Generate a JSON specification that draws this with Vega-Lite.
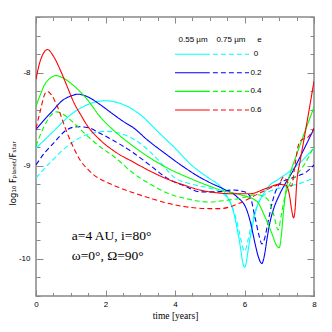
{
 "$schema": "https://vega.github.io/schema/vega-lite/v6.json",
 "width": 278, "height": 279,
 "autosize": "none",
 "padding": {"left": 36, "top": 17, "right": 18, "bottom": 36},
 "background": "white",
 "config": {"view": {"stroke": "#888888", "strokeWidth": 1.5}},
 "datasets": {
  "curves": [
   {"t":0,"v":-8.81,"e":"0","w":"0.55"},{"t":0.5,"v":-8.63,"e":"0","w":"0.55"},{"t":1,"v":-8.45,"e":"0","w":"0.55"},{"t":1.5,"v":-8.34,"e":"0","w":"0.55"},{"t":2,"v":-8.3,"e":"0","w":"0.55"},{"t":2.5,"v":-8.34,"e":"0","w":"0.55"},{"t":3,"v":-8.45,"e":"0","w":"0.55"},{"t":3.5,"v":-8.63,"e":"0","w":"0.55"},{"t":4,"v":-8.81,"e":"0","w":"0.55"},{"t":4.5,"v":-9.0,"e":"0","w":"0.55"},{"t":5,"v":-9.14,"e":"0","w":"0.55"},{"t":5.3,"v":-9.22,"e":"0","w":"0.55"},{"t":5.5,"v":-9.33,"e":"0","w":"0.55"},{"t":5.6,"v":-9.4,"e":"0","w":"0.55"},{"t":5.7,"v":-9.52,"e":"0","w":"0.55"},{"t":5.8,"v":-9.7,"e":"0","w":"0.55"},{"t":5.85,"v":-9.8,"e":"0","w":"0.55"},{"t":5.9,"v":-9.92,"e":"0","w":"0.55"},{"t":5.95,"v":-10.04,"e":"0","w":"0.55"},{"t":6,"v":-10.09,"e":"0","w":"0.55"},{"t":6.05,"v":-10.04,"e":"0","w":"0.55"},{"t":6.1,"v":-9.92,"e":"0","w":"0.55"},{"t":6.15,"v":-9.8,"e":"0","w":"0.55"},{"t":6.2,"v":-9.7,"e":"0","w":"0.55"},{"t":6.3,"v":-9.52,"e":"0","w":"0.55"},{"t":6.4,"v":-9.4,"e":"0","w":"0.55"},{"t":6.5,"v":-9.33,"e":"0","w":"0.55"},{"t":6.7,"v":-9.22,"e":"0","w":"0.55"},{"t":7,"v":-9.14,"e":"0","w":"0.55"},{"t":7.5,"v":-9.0,"e":"0","w":"0.55"},{"t":8,"v":-8.81,"e":"0","w":"0.55"},

   {"t":0,"v":-9.13,"e":"0","w":"0.75"},{"t":0.5,"v":-8.93,"e":"0","w":"0.75"},{"t":1,"v":-8.76,"e":"0","w":"0.75"},{"t":1.5,"v":-8.66,"e":"0","w":"0.75"},{"t":2,"v":-8.63,"e":"0","w":"0.75"},{"t":2.5,"v":-8.66,"e":"0","w":"0.75"},{"t":3,"v":-8.76,"e":"0","w":"0.75"},{"t":3.5,"v":-8.93,"e":"0","w":"0.75"},{"t":4,"v":-9.13,"e":"0","w":"0.75"},{"t":4.5,"v":-9.2,"e":"0","w":"0.75"},{"t":5,"v":-9.24,"e":"0","w":"0.75"},{"t":5.3,"v":-9.28,"e":"0","w":"0.75"},{"t":5.5,"v":-9.34,"e":"0","w":"0.75"},{"t":5.6,"v":-9.4,"e":"0","w":"0.75"},{"t":5.7,"v":-9.5,"e":"0","w":"0.75"},{"t":5.8,"v":-9.63,"e":"0","w":"0.75"},{"t":5.9,"v":-9.8,"e":"0","w":"0.75"},{"t":5.95,"v":-9.88,"e":"0","w":"0.75"},{"t":6,"v":-9.92,"e":"0","w":"0.75"},{"t":6.05,"v":-9.88,"e":"0","w":"0.75"},{"t":6.1,"v":-9.8,"e":"0","w":"0.75"},{"t":6.2,"v":-9.63,"e":"0","w":"0.75"},{"t":6.3,"v":-9.5,"e":"0","w":"0.75"},{"t":6.4,"v":-9.4,"e":"0","w":"0.75"},{"t":6.5,"v":-9.34,"e":"0","w":"0.75"},{"t":6.7,"v":-9.28,"e":"0","w":"0.75"},{"t":7,"v":-9.24,"e":"0","w":"0.75"},{"t":7.5,"v":-9.2,"e":"0","w":"0.75"},{"t":8,"v":-9.13,"e":"0","w":"0.75"},

   {"t":0,"v":-8.61,"e":"0.2","w":"0.55"},{"t":0.25,"v":-8.5,"e":"0.2","w":"0.55"},{"t":0.5,"v":-8.4,"e":"0.2","w":"0.55"},{"t":0.75,"v":-8.3,"e":"0.2","w":"0.55"},{"t":1,"v":-8.25,"e":"0.2","w":"0.55"},{"t":1.2,"v":-8.23,"e":"0.2","w":"0.55"},{"t":1.5,"v":-8.26,"e":"0.2","w":"0.55"},{"t":1.8,"v":-8.33,"e":"0.2","w":"0.55"},{"t":2.2,"v":-8.44,"e":"0.2","w":"0.55"},{"t":2.5,"v":-8.52,"e":"0.2","w":"0.55"},{"t":2.8,"v":-8.59,"e":"0.2","w":"0.55"},{"t":3.2,"v":-8.72,"e":"0.2","w":"0.55"},{"t":3.76,"v":-8.88,"e":"0.2","w":"0.55"},{"t":4.2,"v":-9.0,"e":"0.2","w":"0.55"},{"t":4.7,"v":-9.12,"e":"0.2","w":"0.55"},{"t":5,"v":-9.18,"e":"0.2","w":"0.55"},{"t":5.4,"v":-9.25,"e":"0.2","w":"0.55"},{"t":5.77,"v":-9.33,"e":"0.2","w":"0.55"},{"t":6.06,"v":-9.47,"e":"0.2","w":"0.55"},{"t":6.18,"v":-9.62,"e":"0.2","w":"0.55"},{"t":6.3,"v":-9.83,"e":"0.2","w":"0.55"},{"t":6.4,"v":-9.98,"e":"0.2","w":"0.55"},{"t":6.5,"v":-10.05,"e":"0.2","w":"0.55"},{"t":6.58,"v":-9.95,"e":"0.2","w":"0.55"},{"t":6.65,"v":-9.78,"e":"0.2","w":"0.55"},{"t":6.75,"v":-9.58,"e":"0.2","w":"0.55"},{"t":6.85,"v":-9.45,"e":"0.2","w":"0.55"},{"t":7.02,"v":-9.3,"e":"0.2","w":"0.55"},{"t":7.4,"v":-9.05,"e":"0.2","w":"0.55"},{"t":7.7,"v":-8.83,"e":"0.2","w":"0.55"},{"t":8,"v":-8.6,"e":"0.2","w":"0.55"},

   {"t":0,"v":-8.99,"e":"0.2","w":"0.75"},{"t":0.25,"v":-8.86,"e":"0.2","w":"0.75"},{"t":0.52,"v":-8.75,"e":"0.2","w":"0.75"},{"t":0.9,"v":-8.61,"e":"0.2","w":"0.75"},{"t":1.19,"v":-8.58,"e":"0.2","w":"0.75"},{"t":1.5,"v":-8.59,"e":"0.2","w":"0.75"},{"t":1.84,"v":-8.65,"e":"0.2","w":"0.75"},{"t":2.24,"v":-8.73,"e":"0.2","w":"0.75"},{"t":2.8,"v":-8.86,"e":"0.2","w":"0.75"},{"t":3.3,"v":-9.0,"e":"0.2","w":"0.75"},{"t":3.76,"v":-9.13,"e":"0.2","w":"0.75"},{"t":4.3,"v":-9.22,"e":"0.2","w":"0.75"},{"t":4.72,"v":-9.28,"e":"0.2","w":"0.75"},{"t":5.2,"v":-9.28,"e":"0.2","w":"0.75"},{"t":5.68,"v":-9.26,"e":"0.2","w":"0.75"},{"t":6,"v":-9.28,"e":"0.2","w":"0.75"},{"t":6.16,"v":-9.33,"e":"0.2","w":"0.75"},{"t":6.3,"v":-9.55,"e":"0.2","w":"0.75"},{"t":6.4,"v":-9.72,"e":"0.2","w":"0.75"},{"t":6.5,"v":-9.84,"e":"0.2","w":"0.75"},{"t":6.58,"v":-9.78,"e":"0.2","w":"0.75"},{"t":6.69,"v":-9.58,"e":"0.2","w":"0.75"},{"t":6.83,"v":-9.35,"e":"0.2","w":"0.75"},{"t":7.02,"v":-9.19,"e":"0.2","w":"0.75"},{"t":7.3,"v":-9.14,"e":"0.2","w":"0.75"},{"t":7.6,"v":-9.1,"e":"0.2","w":"0.75"},{"t":7.8,"v":-9.06,"e":"0.2","w":"0.75"},{"t":8,"v":-8.99,"e":"0.2","w":"0.75"},

   {"t":0,"v":-8.36,"e":"0.4","w":"0.55"},{"t":0.12,"v":-8.24,"e":"0.4","w":"0.55"},{"t":0.23,"v":-8.14,"e":"0.4","w":"0.55"},{"t":0.4,"v":-8.06,"e":"0.4","w":"0.55"},{"t":0.57,"v":-8.03,"e":"0.4","w":"0.55"},{"t":0.8,"v":-8.06,"e":"0.4","w":"0.55"},{"t":1.09,"v":-8.14,"e":"0.4","w":"0.55"},{"t":1.48,"v":-8.29,"e":"0.4","w":"0.55"},{"t":1.86,"v":-8.48,"e":"0.4","w":"0.55"},{"t":2.24,"v":-8.62,"e":"0.4","w":"0.55"},{"t":2.8,"v":-8.79,"e":"0.4","w":"0.55"},{"t":3.3,"v":-8.92,"e":"0.4","w":"0.55"},{"t":3.76,"v":-9.02,"e":"0.4","w":"0.55"},{"t":4.4,"v":-9.13,"e":"0.4","w":"0.55"},{"t":5,"v":-9.22,"e":"0.4","w":"0.55"},{"t":5.3,"v":-9.26,"e":"0.4","w":"0.55"},{"t":5.87,"v":-9.31,"e":"0.4","w":"0.55"},{"t":6.35,"v":-9.38,"e":"0.4","w":"0.55"},{"t":6.59,"v":-9.55,"e":"0.4","w":"0.55"},{"t":6.78,"v":-9.72,"e":"0.4","w":"0.55"},{"t":6.93,"v":-9.86,"e":"0.4","w":"0.55"},{"t":7,"v":-9.88,"e":"0.4","w":"0.55"},{"t":7.06,"v":-9.75,"e":"0.4","w":"0.55"},{"t":7.12,"v":-9.5,"e":"0.4","w":"0.55"},{"t":7.2,"v":-9.25,"e":"0.4","w":"0.55"},{"t":7.3,"v":-9.1,"e":"0.4","w":"0.55"},{"t":7.5,"v":-8.88,"e":"0.4","w":"0.55"},{"t":7.75,"v":-8.62,"e":"0.4","w":"0.55"},{"t":8,"v":-8.37,"e":"0.4","w":"0.55"},

   {"t":0,"v":-8.79,"e":"0.4","w":"0.75"},{"t":0.12,"v":-8.67,"e":"0.4","w":"0.75"},{"t":0.23,"v":-8.58,"e":"0.4","w":"0.75"},{"t":0.4,"v":-8.47,"e":"0.4","w":"0.75"},{"t":0.6,"v":-8.42,"e":"0.4","w":"0.75"},{"t":0.8,"v":-8.45,"e":"0.4","w":"0.75"},{"t":1.09,"v":-8.54,"e":"0.4","w":"0.75"},{"t":1.48,"v":-8.68,"e":"0.4","w":"0.75"},{"t":1.86,"v":-8.8,"e":"0.4","w":"0.75"},{"t":2.24,"v":-8.9,"e":"0.4","w":"0.75"},{"t":2.8,"v":-9.08,"e":"0.4","w":"0.75"},{"t":3.3,"v":-9.2,"e":"0.4","w":"0.75"},{"t":3.76,"v":-9.29,"e":"0.4","w":"0.75"},{"t":4.4,"v":-9.36,"e":"0.4","w":"0.75"},{"t":5,"v":-9.39,"e":"0.4","w":"0.75"},{"t":5.5,"v":-9.37,"e":"0.4","w":"0.75"},{"t":5.87,"v":-9.35,"e":"0.4","w":"0.75"},{"t":6.35,"v":-9.31,"e":"0.4","w":"0.75"},{"t":6.64,"v":-9.35,"e":"0.4","w":"0.75"},{"t":6.83,"v":-9.51,"e":"0.4","w":"0.75"},{"t":6.97,"v":-9.69,"e":"0.4","w":"0.75"},{"t":7.05,"v":-9.55,"e":"0.4","w":"0.75"},{"t":7.15,"v":-9.35,"e":"0.4","w":"0.75"},{"t":7.3,"v":-9.2,"e":"0.4","w":"0.75"},{"t":7.5,"v":-9.1,"e":"0.4","w":"0.75"},{"t":7.75,"v":-8.97,"e":"0.4","w":"0.75"},{"t":8,"v":-8.79,"e":"0.4","w":"0.75"},

   {"t":0,"v":-8.07,"e":"0.6","w":"0.55"},{"t":0.1,"v":-7.9,"e":"0.6","w":"0.55"},{"t":0.2,"v":-7.8,"e":"0.6","w":"0.55"},{"t":0.33,"v":-7.75,"e":"0.6","w":"0.55"},{"t":0.5,"v":-7.82,"e":"0.6","w":"0.55"},{"t":0.71,"v":-7.98,"e":"0.6","w":"0.55"},{"t":0.9,"v":-8.15,"e":"0.6","w":"0.55"},{"t":1.09,"v":-8.32,"e":"0.6","w":"0.55"},{"t":1.3,"v":-8.46,"e":"0.6","w":"0.55"},{"t":1.48,"v":-8.57,"e":"0.6","w":"0.55"},{"t":1.84,"v":-8.72,"e":"0.6","w":"0.55"},{"t":2.24,"v":-8.84,"e":"0.6","w":"0.55"},{"t":2.8,"v":-8.96,"e":"0.6","w":"0.55"},{"t":3.3,"v":-9.06,"e":"0.6","w":"0.55"},{"t":3.76,"v":-9.14,"e":"0.6","w":"0.55"},{"t":4.2,"v":-9.2,"e":"0.6","w":"0.55"},{"t":4.72,"v":-9.26,"e":"0.6","w":"0.55"},{"t":5.2,"v":-9.29,"e":"0.6","w":"0.55"},{"t":5.6,"v":-9.3,"e":"0.6","w":"0.55"},{"t":6.16,"v":-9.3,"e":"0.6","w":"0.55"},{"t":6.64,"v":-9.24,"e":"0.6","w":"0.55"},{"t":7,"v":-9.2,"e":"0.6","w":"0.55"},{"t":7.2,"v":-9.21,"e":"0.6","w":"0.55"},{"t":7.3,"v":-9.33,"e":"0.6","w":"0.55"},{"t":7.36,"v":-9.48,"e":"0.6","w":"0.55"},{"t":7.41,"v":-9.56,"e":"0.6","w":"0.55"},{"t":7.46,"v":-9.45,"e":"0.6","w":"0.55"},{"t":7.5,"v":-9.2,"e":"0.6","w":"0.55"},{"t":7.6,"v":-8.95,"e":"0.6","w":"0.55"},{"t":7.7,"v":-8.74,"e":"0.6","w":"0.55"},{"t":7.85,"v":-8.42,"e":"0.6","w":"0.55"},{"t":8,"v":-8.09,"e":"0.6","w":"0.55"},

   {"t":0,"v":-8.6,"e":"0.6","w":"0.75"},{"t":0.13,"v":-8.4,"e":"0.6","w":"0.75"},{"t":0.25,"v":-8.23,"e":"0.6","w":"0.75"},{"t":0.33,"v":-8.2,"e":"0.6","w":"0.75"},{"t":0.45,"v":-8.24,"e":"0.6","w":"0.75"},{"t":0.6,"v":-8.35,"e":"0.6","w":"0.75"},{"t":0.9,"v":-8.65,"e":"0.6","w":"0.75"},{"t":1.1,"v":-8.82,"e":"0.6","w":"0.75"},{"t":1.29,"v":-8.95,"e":"0.6","w":"0.75"},{"t":1.5,"v":-9.04,"e":"0.6","w":"0.75"},{"t":1.67,"v":-9.1,"e":"0.6","w":"0.75"},{"t":1.84,"v":-9.14,"e":"0.6","w":"0.75"},{"t":2.24,"v":-9.21,"e":"0.6","w":"0.75"},{"t":2.8,"v":-9.29,"e":"0.6","w":"0.75"},{"t":3.3,"v":-9.35,"e":"0.6","w":"0.75"},{"t":3.76,"v":-9.4,"e":"0.6","w":"0.75"},{"t":4.3,"v":-9.44,"e":"0.6","w":"0.75"},{"t":5,"v":-9.46,"e":"0.6","w":"0.75"},{"t":5.3,"v":-9.46,"e":"0.6","w":"0.75"},{"t":5.87,"v":-9.4,"e":"0.6","w":"0.75"},{"t":6.35,"v":-9.31,"e":"0.6","w":"0.75"},{"t":6.73,"v":-9.24,"e":"0.6","w":"0.75"},{"t":7.02,"v":-9.18,"e":"0.6","w":"0.75"},{"t":7.12,"v":-9.12,"e":"0.6","w":"0.75"},{"t":7.25,"v":-9.18,"e":"0.6","w":"0.75"},{"t":7.35,"v":-9.22,"e":"0.6","w":"0.75"},{"t":7.45,"v":-9.0,"e":"0.6","w":"0.75"},{"t":7.55,"v":-8.78,"e":"0.6","w":"0.75"},{"t":7.65,"v":-8.72,"e":"0.6","w":"0.75"},{"t":7.8,"v":-8.7,"e":"0.6","w":"0.75"},{"t":8,"v":-8.6,"e":"0.6","w":"0.75"}
  ],
  "legend": [
   {"x1":4.0,"x2":5.0,"ly":-7.8,"e":"0","w":"0.55"},{"x1":5.09,"x2":6.13,"ly":-7.8,"e":"0","w":"0.75"},
   {"x1":4.0,"x2":5.0,"ly":-8.0,"e":"0.2","w":"0.55"},{"x1":5.09,"x2":6.13,"ly":-8.0,"e":"0.2","w":"0.75"},
   {"x1":4.0,"x2":5.0,"ly":-8.2,"e":"0.4","w":"0.55"},{"x1":5.09,"x2":6.13,"ly":-8.2,"e":"0.4","w":"0.75"},
   {"x1":4.0,"x2":5.0,"ly":-8.4,"e":"0.6","w":"0.55"},{"x1":5.09,"x2":6.13,"ly":-8.4,"e":"0.6","w":"0.75"}
  ],
  "legendText": [
   {"x":4.52,"y":-7.65,"label":"0.55 µm","align":"center"},
   {"x":5.61,"y":-7.65,"label":"0.75 µm","align":"center"},
   {"x":6.43,"y":-7.65,"label":"e","align":"center"},
   {"x":6.33,"y":-7.8,"label":"0","align":"left"},
   {"x":6.33,"y":-8.0,"label":"0.2","align":"left"},
   {"x":6.33,"y":-8.2,"label":"0.4","align":"left"},
   {"x":6.33,"y":-8.4,"label":"0.6","align":"left"}
  ],
  "notes": [
   {"x":1.03,"y":-9.76,"label":"a=4  AU,  i=80°"},
   {"x":1.03,"y":-9.97,"label":"ω=0°,  Ω=90°"}
  ]
 },
 "layer": [
  {
   "data": {"name": "curves"},
   "mark": {"type": "line", "strokeWidth": 1.1, "interpolate": "monotone", "clip": true},
   "encoding": {
    "x": {"field": "t", "type": "quantitative", "scale": {"domain": [0, 8], "nice": false, "zero": false},
     "axis": {"orient": "bottom", "values": [0,0.5,1,1.5,2,2.5,3,3.5,4,4.5,5,5.5,6,6.5,7,7.5,8],
      "tickSize": {"condition": {"test": "datum.value % 2 === 0", "value": -6}, "value": -3.5},
      "tickColor": "#888888", "tickWidth": 1, "domain": false, "grid": false,
      "labelExpr": "datum.value % 2 === 0 ? '' + datum.value : ''", "labelOverlap": false, "labelFlush": false,
      "labelFont": "Liberation Sans", "labelFontSize": 8, "labelColor": "#000000", "labelPadding": 10,
      "title": "time [years]", "titleFont": "Liberation Serif", "titleFontSize": 9.5, "titleFontWeight": "normal", "titleColor": "#000000", "titleY": 19, "titleX": 139, "titleBaseline": "middle"}},
    "y": {"field": "v", "type": "quantitative", "scale": {"domain": [-10.4, -7.4], "nice": false, "zero": false},
     "axis": {"orient": "left", "values": [-10.4,-10.2,-10,-9.8,-9.6,-9.4,-9.2,-9,-8.8,-8.6,-8.4,-8.2,-8,-7.8,-7.6,-7.4],
      "tickSize": {"condition": {"test": "abs(datum.value - round(datum.value)) < 0.001", "value": -7}, "value": -4},
      "tickColor": "#888888", "tickWidth": 1, "domain": false, "grid": false,
      "labelExpr": "abs(datum.value - round(datum.value)) < 0.001 ? '-' + abs(round(datum.value)) : ''", "labelOverlap": false, "labelFlush": false,
      "labelFont": "Liberation Sans", "labelFontSize": 8, "labelColor": "#000000", "labelPadding": 13,
      "title": "log₁₀  Fₚₗₐₙₑₜ/Fₛₜₐᵣ", "titleFont": "DejaVu Sans", "titleFontSize": 8.5, "titleFontWeight": "normal", "titleColor": "#000000", "titleX": -24, "titleY": 156, "titleBaseline": "middle", "titleAngle": -90}},
    "color": {"field": "e", "type": "nominal", "scale": {"domain": ["0","0.2","0.4","0.6"], "range": ["#00ffff","#0000ff","#00ff00","#ff0000"]}, "legend": null},
    "strokeDash": {"field": "w", "type": "nominal", "scale": {"domain": ["0.55","0.75"], "range": [[1,0],[5,3]]}, "legend": null}
   }
  },
  {
   "data": {"name": "legend"},
   "mark": {"type": "rule", "strokeWidth": 1.1},
   "encoding": {
    "x": {"field": "x1", "type": "quantitative", "scale": {"domain": [0, 8], "nice": false, "zero": false},
     "axis": {"orient": "top", "values": [0,0.5,1,1.5,2,2.5,3,3.5,4,4.5,5,5.5,6,6.5,7,7.5,8],
      "tickSize": {"condition": {"test": "datum.value % 2 === 0", "value": -6}, "value": -3.5},
      "tickColor": "#888888", "tickWidth": 1, "domain": false, "grid": false, "labels": false, "title": null}},
    "x2": {"field": "x2"},
    "y": {"field": "ly", "type": "quantitative", "scale": {"domain": [-10.4, -7.4], "nice": false, "zero": false},
     "axis": {"orient": "right", "values": [-10.4,-10.2,-10,-9.8,-9.6,-9.4,-9.2,-9,-8.8,-8.6,-8.4,-8.2,-8,-7.8,-7.6,-7.4],
      "tickSize": {"condition": {"test": "abs(datum.value - round(datum.value)) < 0.001", "value": -7}, "value": -4},
      "tickColor": "#888888", "tickWidth": 1, "domain": false, "grid": false, "labels": false, "title": null}},
    "color": {"field": "e", "type": "nominal", "legend": null},
    "strokeDash": {"field": "w", "type": "nominal", "legend": null}
   }
  },
  {
   "data": {"name": "legendText"},
   "mark": {"type": "text", "font": "Liberation Sans", "fontSize": 8, "baseline": "middle", "color": "#000000"},
   "encoding": {
    "x": {"field": "x", "type": "quantitative", "axis": null},
    "y": {"field": "y", "type": "quantitative", "axis": null},
    "text": {"field": "label"},
    "align": {"field": "align", "type": "nominal", "scale": null}
   }
  },
  {
   "data": {"name": "notes"},
   "mark": {"type": "text", "font": "Liberation Serif", "fontSize": 13.5, "align": "left", "baseline": "middle", "color": "#000000"},
   "encoding": {
    "x": {"field": "x", "type": "quantitative", "axis": null},
    "y": {"field": "y", "type": "quantitative", "axis": null},
    "text": {"field": "label"}
   }
  }
 ],
 "resolve": {"axis": {"x": "independent", "y": "independent"}}
}
